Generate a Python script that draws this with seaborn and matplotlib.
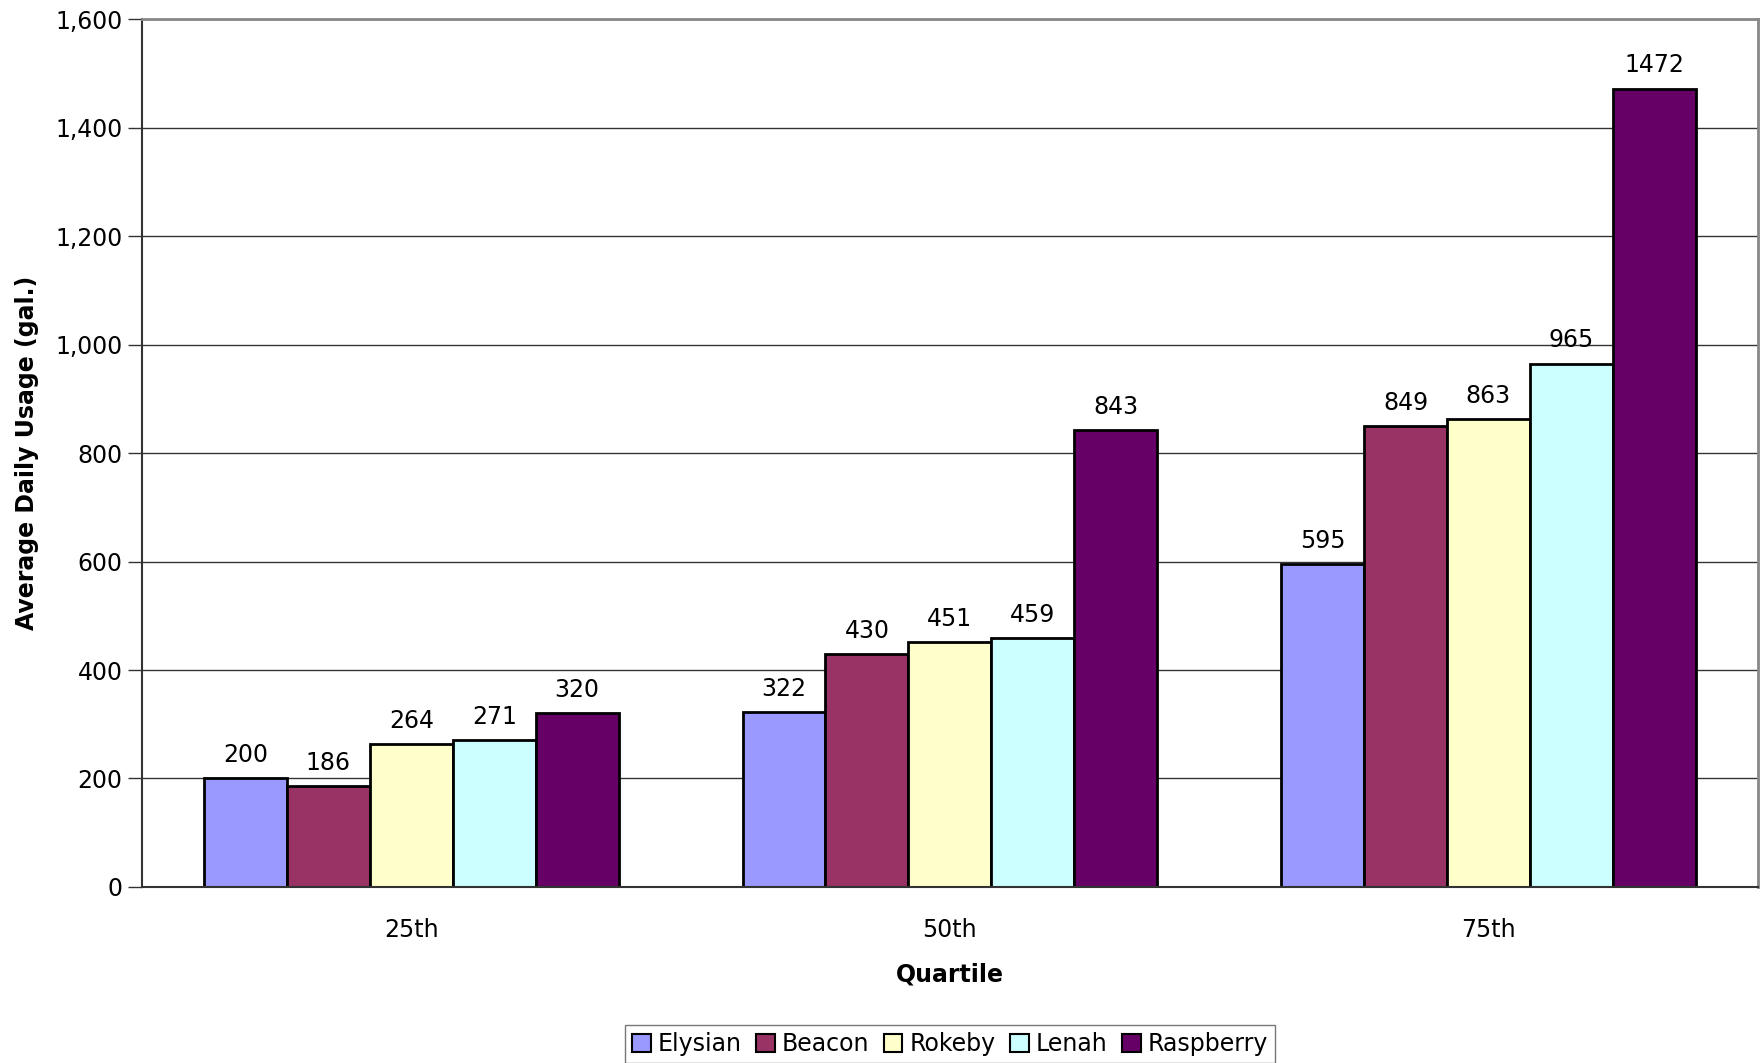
import matplotlib
matplotlib.use("Agg")
import matplotlib.pyplot as plt
import seaborn as sns
import pandas as pd
import numpy as np

quartiles = ["25th", "50th", "75th"]
sites = ["Elysian", "Beacon", "Rokeby", "Lenah", "Raspberry"]
elysian = [200, 322, 595]
beacon = [186, 430, 849]
rokeby = [264, 451, 863]
lenah = [271, 459, 965]
raspberry = [320, 843, 1472]
colors = ["#9999FF", "#993366", "#FFFFCC", "#CCFFFF", "#660066"]

rows = []
for site, vals in zip(sites, [elysian, beacon, rokeby, lenah, raspberry]):
    for q, v in zip(quartiles, vals):
        rows.append({"Quartile": q, "Site": site, "Usage": v})
df = pd.DataFrame(rows)

sns.set_style("white")
plt.rcParams["font.family"] = ["DejaVu Sans"]
plt.rcParams["text.color"] = "black"
plt.rcParams["axes.labelcolor"] = "black"
plt.rcParams["xtick.color"] = "black"
plt.rcParams["ytick.color"] = "black"

fig = plt.figure(figsize=(17.6, 10.63), dpi=100)
ax = fig.add_axes([0.0807, 0.1656, 0.918, 0.8164])

sns.barplot(data=df, x="Quartile", y="Usage", hue="Site", order=quartiles,
            hue_order=sites, palette=colors, width=0.77, edgecolor="black",
            linewidth=2, saturation=1, ax=ax, legend=True)

for cont in ax.containers:
    ax.bar_label(cont, fmt="%d", padding=8, fontsize=17, color="black")

ax.set_ylim(0, 1600)
ax.set_xlim(-0.5, 2.5)
ax.set_yticks(range(0, 1601, 200))
ax.set_yticklabels([f"{v:,}" for v in range(0, 1601, 200)], fontsize=17)
ax.yaxis.grid(True, color="#333333", linewidth=1)
ax.set_axisbelow(True)

ax.set_xticks([0, 1, 2])
ax.set_xticklabels(quartiles, fontsize=17)
ax.tick_params(axis="x", which="major", length=0, pad=22)
ax.set_xticks([-0.5, 0.5, 1.5, 2.5], minor=True)
ax.tick_params(axis="x", which="minor", length=8, color="#333333", width=1)
ax.tick_params(axis="y", length=10, color="#333333", width=1, left=True, pad=4)

ax.set_xlabel("Quartile", fontsize=17, fontweight="bold", labelpad=15)
ax.set_ylabel("Average Daily Usage (gal.)", fontsize=17, fontweight="bold", labelpad=12)

for s in ["left", "bottom"]:
    ax.spines[s].set_color("#333333")
    ax.spines[s].set_linewidth(1.5)
for s in ["top", "right"]:
    ax.spines[s].set_color("#888888")
    ax.spines[s].set_linewidth(2)

leg = ax.legend(loc="center", bbox_to_anchor=(0.5, -0.181), ncol=5, frameon=True,
                fontsize=17, handlelength=0.8, handleheight=0.8, handletextpad=0.3,
                columnspacing=0.6, borderpad=0.3, fancybox=False, edgecolor="#555555")
for h in leg.legend_handles:
    h.set_edgecolor("black")
    h.set_linewidth(1.5)

fig.savefig("out.png", dpi=100)
